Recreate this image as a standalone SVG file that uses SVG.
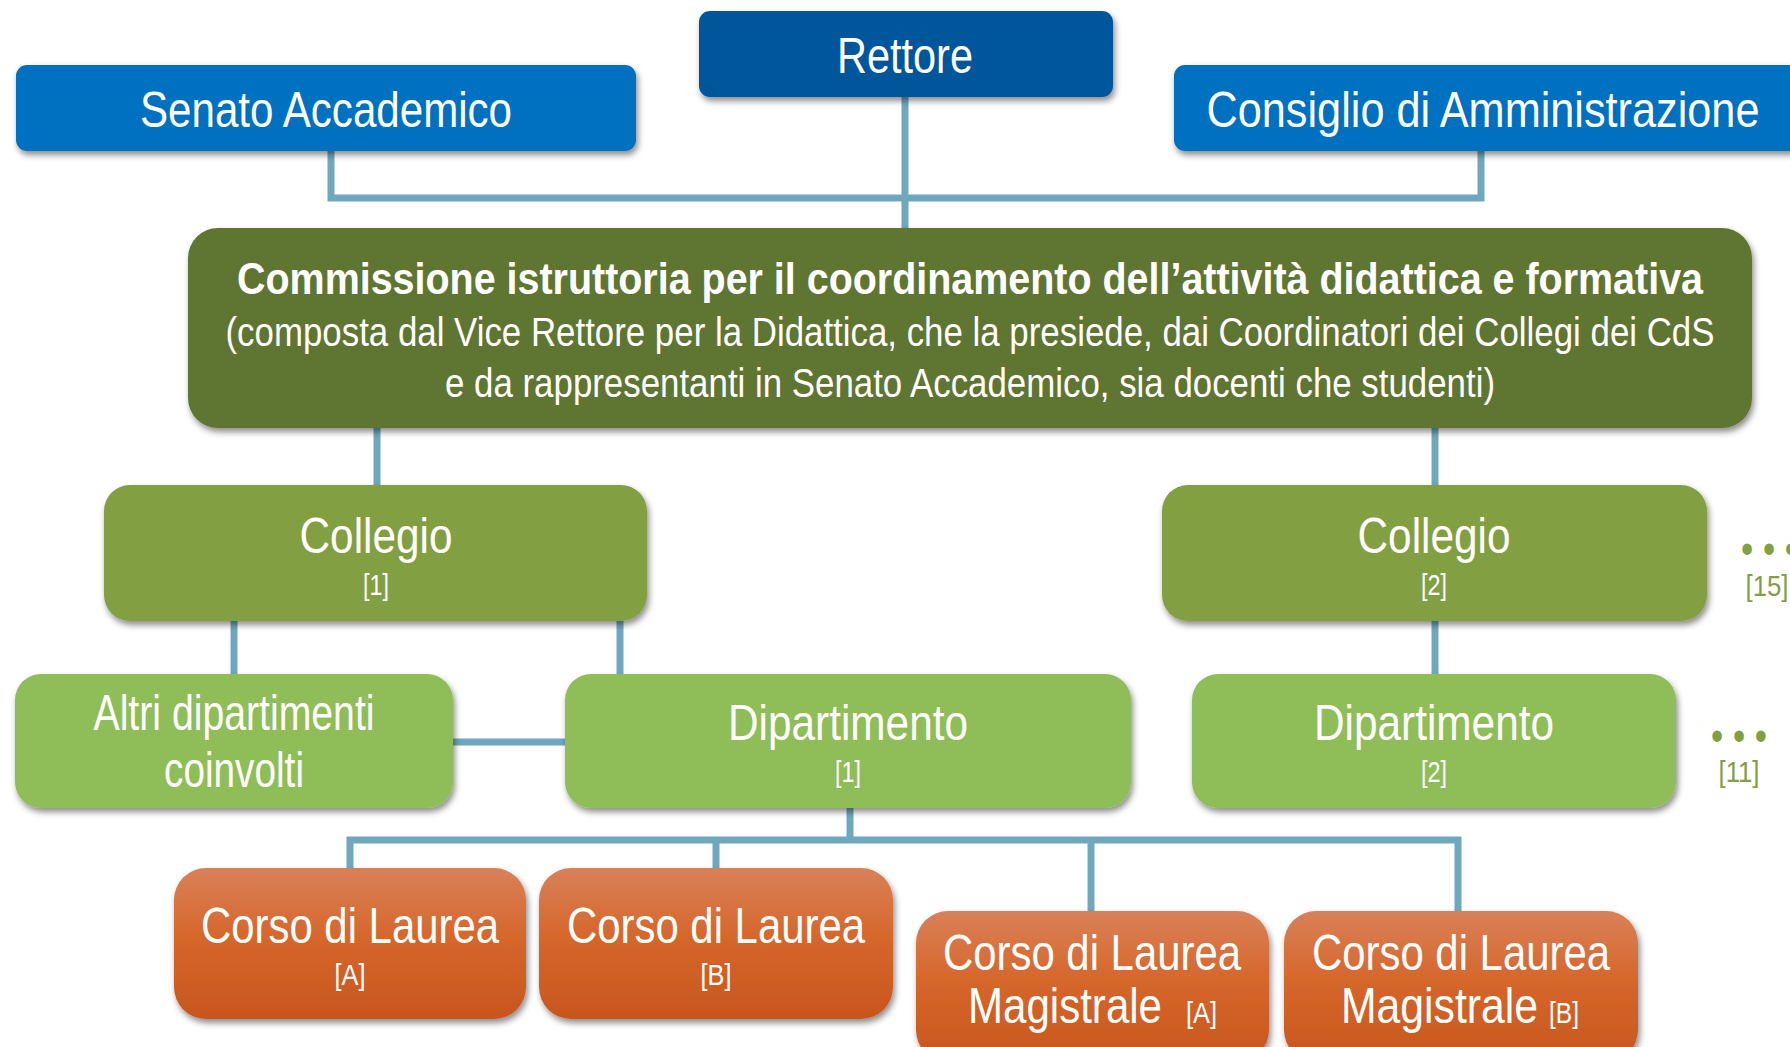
<svg xmlns="http://www.w3.org/2000/svg" width="1790" height="1047" viewBox="0 0 1790 1047">
<style>
text{font-family:"Liberation Sans Narrow","Arial Narrow","Liberation Sans",sans-serif;fill:#fff;text-anchor:middle}
.t{font-size:50px}
.s{font-size:30px}
.b{font-weight:bold}
.g{fill:#82a043}
.conn{fill:none;stroke:#6fa8be;stroke-width:7;stroke-linejoin:miter}
</style>
<defs>
<filter id="sh" x="-5%" y="-5%" width="110%" height="130%">
<feDropShadow dx="2" dy="4" stdDeviation="3" flood-color="#000" flood-opacity="0.45"/>
</filter>
<linearGradient id="org" x1="0" y1="0" x2="0" y2="1">
<stop offset="0" stop-color="#d98159"/>
<stop offset="0.45" stop-color="#d6672c"/>
<stop offset="1" stop-color="#c8561d"/>
</linearGradient>
</defs>
<rect width="1790" height="1047" fill="#fff"/>
<g id="connectors">
<path class="conn" d="M331 151V198H1481V151"/>
<path class="conn" d="M905 97V229"/>
<path class="conn" d="M377 428V486"/>
<path class="conn" d="M1435 428V486"/>
<path class="conn" d="M234 621V675"/>
<path class="conn" d="M620 621V675"/>
<path class="conn" d="M1435 621V675"/>
<path class="conn" d="M453 742H566"/>
<path class="conn" d="M850 808V840"/>
<path class="conn" d="M350 869V840H1458V912"/>
<path class="conn" d="M716 840V869"/>
<path class="conn" d="M1091 840V912"/>
</g>
<g id="rettore">
<rect x="699" y="11" width="414" height="86" rx="11" fill="#01569a" filter="url(#sh)"/>
<text class="t" x="905" y="73" textLength="136" lengthAdjust="spacingAndGlyphs">Rettore</text>
</g>
<g id="senato">
<rect x="16" y="65" width="620" height="86" rx="11" fill="#0070c0" filter="url(#sh)"/>
<text class="t" x="326" y="127" textLength="372" lengthAdjust="spacingAndGlyphs">Senato Accademico</text>
</g>
<g id="consiglio">
<rect x="1174" y="65" width="630" height="86" rx="11" fill="#0070c0" filter="url(#sh)"/>
<text class="t" x="1483" y="127" font-size="46" textLength="553" lengthAdjust="spacingAndGlyphs">Consiglio di Amministrazione</text>
</g>
<g id="commissione">
<rect x="188" y="228" width="1564" height="200" rx="30" fill="#5f7532" filter="url(#sh)"/>
<text class="b" x="970" y="294" font-size="44" textLength="1466" lengthAdjust="spacingAndGlyphs">Commissione istruttoria per il coordinamento dell’attività didattica e formativa</text>
<text x="970" y="346" font-size="40" textLength="1489" lengthAdjust="spacingAndGlyphs">(composta dal Vice Rettore per la Didattica, che la presiede, dai Coordinatori dei Collegi dei CdS</text>
<text x="970" y="397" font-size="40" textLength="1050" lengthAdjust="spacingAndGlyphs">e da rappresentanti in Senato Accademico, sia docenti che studenti)</text>
</g>
<g id="collegio1">
<rect x="104" y="485" width="543" height="136" rx="26" fill="#82a043" filter="url(#sh)"/>
<text class="t" x="376" y="553" textLength="153" lengthAdjust="spacingAndGlyphs">Collegio</text>
<text class="s" x="376" y="595" textLength="26" lengthAdjust="spacingAndGlyphs">[1]</text>
</g>
<g id="collegio2">
<rect x="1162" y="485" width="545" height="136" rx="26" fill="#82a043" filter="url(#sh)"/>
<text class="t" x="1434" y="553" textLength="153" lengthAdjust="spacingAndGlyphs">Collegio</text>
<text class="s" x="1434" y="595" textLength="26" lengthAdjust="spacingAndGlyphs">[2]</text>
</g>
<g id="collegi-altri">
<text class="g" x="1769" y="563" font-size="42" textLength="56" lengthAdjust="spacingAndGlyphs">• • •</text>
<text class="s g" x="1767" y="596" textLength="43" lengthAdjust="spacingAndGlyphs">[15]</text>
</g>
<g id="altri">
<rect x="15" y="674" width="438" height="134" rx="26" fill="#8fbd59" filter="url(#sh)"/>
<text class="t" x="234" y="730" font-size="48" textLength="281" lengthAdjust="spacingAndGlyphs">Altri dipartimenti</text>
<text class="t" x="234" y="787" textLength="140" lengthAdjust="spacingAndGlyphs">coinvolti</text>
</g>
<g id="dipartimento1">
<rect x="565" y="674" width="566" height="134" rx="26" fill="#8fbd59" filter="url(#sh)"/>
<text class="t" x="848" y="740" textLength="240" lengthAdjust="spacingAndGlyphs">Dipartimento</text>
<text class="s" x="848" y="782" textLength="26" lengthAdjust="spacingAndGlyphs">[1]</text>
</g>
<g id="dipartimento2">
<rect x="1192" y="674" width="484" height="134" rx="26" fill="#8fbd59" filter="url(#sh)"/>
<text class="t" x="1434" y="740" textLength="240" lengthAdjust="spacingAndGlyphs">Dipartimento</text>
<text class="s" x="1434" y="782" textLength="26" lengthAdjust="spacingAndGlyphs">[2]</text>
</g>
<g id="dipartimenti-altri">
<text class="g" x="1739" y="750" font-size="42" textLength="56" lengthAdjust="spacingAndGlyphs">• • •</text>
<text class="s g" x="1739" y="782" textLength="41" lengthAdjust="spacingAndGlyphs">[11]</text>
</g>
<g id="cl-a">
<rect x="174" y="868" width="352" height="151" rx="32" fill="url(#org)" filter="url(#sh)"/>
<text class="t" x="350" y="943" textLength="298" lengthAdjust="spacingAndGlyphs">Corso di Laurea</text>
<text class="s" x="350" y="985" textLength="31" lengthAdjust="spacingAndGlyphs">[A]</text>
</g>
<g id="cl-b">
<rect x="539" y="868" width="354" height="151" rx="32" fill="url(#org)" filter="url(#sh)"/>
<text class="t" x="716" y="943" textLength="298" lengthAdjust="spacingAndGlyphs">Corso di Laurea</text>
<text class="s" x="716" y="985" textLength="31" lengthAdjust="spacingAndGlyphs">[B]</text>
</g>
<g id="clm-a">
<rect x="916" y="911" width="353" height="151" rx="32" fill="url(#org)" filter="url(#sh)"/>
<text class="t" x="1092" y="970" textLength="298" lengthAdjust="spacingAndGlyphs">Corso di Laurea</text>
<text class="t" x="1162" y="1023" style="text-anchor:end" textLength="194" lengthAdjust="spacingAndGlyphs">Magistrale</text>
<text class="s" x="1186" y="1023" style="text-anchor:start" textLength="31" lengthAdjust="spacingAndGlyphs">[A]</text>
</g>
<g id="clm-b">
<rect x="1284" y="911" width="354" height="151" rx="32" fill="url(#org)" filter="url(#sh)"/>
<text class="t" x="1461" y="970" textLength="298" lengthAdjust="spacingAndGlyphs">Corso di Laurea</text>
<text class="t" x="1538" y="1023" style="text-anchor:end" textLength="197" lengthAdjust="spacingAndGlyphs">Magistrale</text>
<text class="s" x="1549" y="1023" style="text-anchor:start" textLength="30" lengthAdjust="spacingAndGlyphs">[B]</text>
</g>
</svg>
